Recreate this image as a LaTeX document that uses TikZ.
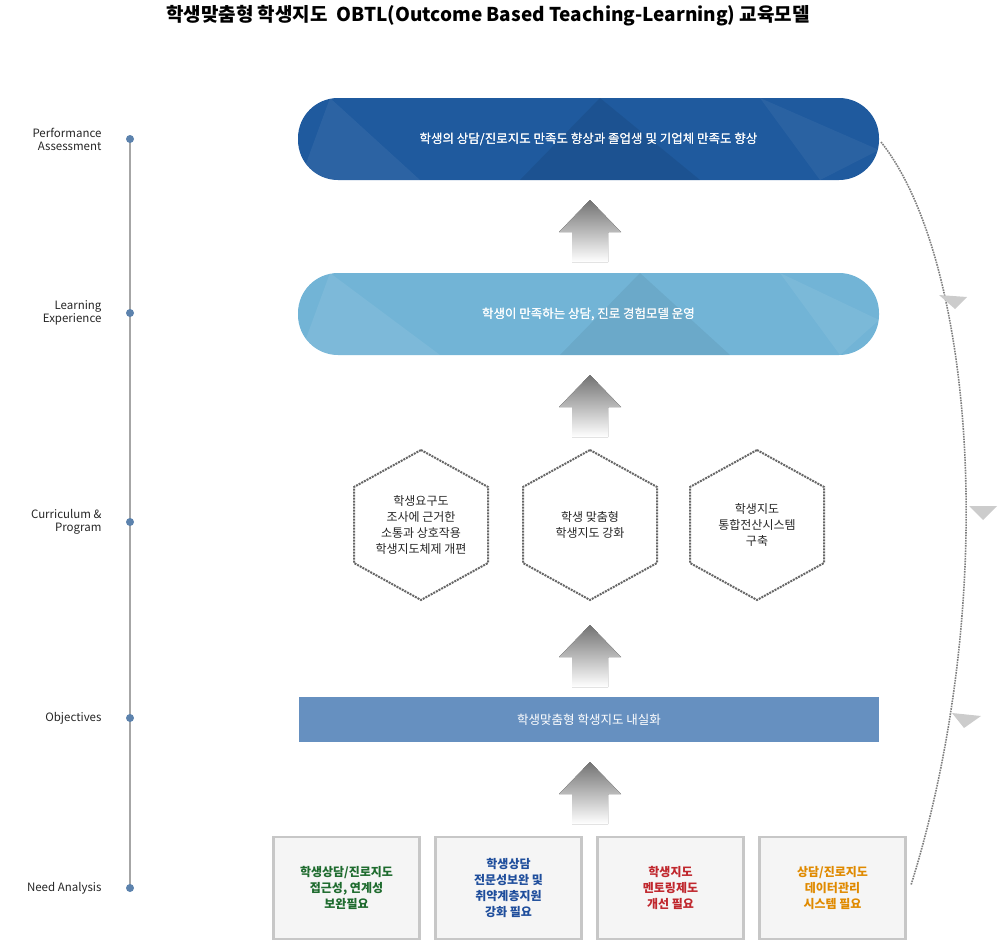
\documentclass[tikz,border=0pt]{standalone}
\usepackage{fontspec}
\setmainfont{Noto Sans CJK KR}
\usetikzlibrary{decorations.markings}
\definecolor{dblue}{HTML}{1F5A9E}
\definecolor{lblue}{HTML}{72B4D6}
\definecolor{oblue}{HTML}{6690C0}
\definecolor{tgreen}{HTML}{1E6B2E}
\definecolor{tblue}{HTML}{1F4E9C}
\definecolor{tred}{HTML}{C0272D}
\definecolor{torange}{HTML}{E08A00}
\tikzset{
 lab/.style={anchor=east,align=right,font=\fontsize{11.5}{13}\selectfont,text=black!85},
 dot/.style={circle,fill=oblue!90!black,inner sep=0pt,minimum size=8pt},
 pill/.style={rounded corners=40pt,minimum width=581pt,minimum height=82pt,text=white,font=\fontsize{12.5}{15}\selectfont},
 need/.style={draw=black!22,line width=2.5pt,fill=black!4,minimum width=146pt,minimum height=102pt,align=center,font=\bfseries\fontsize{12}{16}\selectfont},
 hex/.style={draw=black!60,densely dotted,line width=2pt},
 hext/.style={align=center,font=\fontsize{12}{16}\selectfont,text=black!85},
 uparrow/.style={top color=black!55,bottom color=white,draw=none},
 arr/.style={fill=black!20,draw=none}
}
\begin{document}
\begin{tikzpicture}[x=1pt,y=-1pt]
\useasboundingbox (0,0) rectangle (998,942);
\node[font=\bfseries\fontsize{19}{22}\selectfont] (title) at (488,16) {학생맞춤형 학생지도\ \ OBTL(Outcome Based Teaching-Learning) 교육모델};
% left scale
\draw[black!35,line width=1.5pt] (130,139) -- (130,888);
\foreach \y/\t/\n in {139/Performance\\Assessment/l1,313/Learning\\Experience/l2,522/Curriculum \&\\Program/l3,718/Objectives/l4,888/Need Analysis/l5}{
 \node[dot] (\n d) at (130,\y) {};
 \node[lab] (\n) at (105,\y) {\t};
}
% pills
\node[pill,fill=dblue] (p1) at (588.5,139) {학생의 상담/진로지도 만족도 향상과 졸업생 및 기업체 만족도 향상};
\begin{scope}
\clip[rounded corners=40pt] (298,98) rectangle (879,180);
\fill[white,opacity=0.06] (330,98) -- (420,180) -- (300,180) -- cycle;
\fill[black,opacity=0.08] (600,98) -- (700,180) -- (520,180) -- cycle;
\fill[white,opacity=0.05] (760,98) -- (879,150) -- (820,180) -- cycle;
\end{scope}
\node[text=white,font=\fontsize{12.5}{15}\selectfont] at (p1) {학생의 상담/진로지도 만족도 향상과 졸업생 및 기업체 만족도 향상};
\node[pill,fill=lblue] (p2) at (588.5,314) {학생이 만족하는 상담, 진로 경험모델 운영};
\begin{scope}
\clip[rounded corners=40pt] (298,273) rectangle (879,355);
\fill[white,opacity=0.08] (330,273) -- (440,355) -- (300,355) -- cycle;
\fill[black,opacity=0.06] (640,273) -- (730,355) -- (560,355) -- cycle;
\fill[white,opacity=0.07] (780,273) -- (879,320) -- (840,355) -- cycle;
\end{scope}
\node[text=white,font=\fontsize{12.5}{15}\selectfont] at (p2) {학생이 만족하는 상담, 진로 경험모델 운영};
% up arrows
\foreach \t in {200,375,625,762}{
 \fill[uparrow] (590,\t) -- (621,\t+32) -- (608,\t+32) -- (608,\t+62) -- (572,\t+62) -- (572,\t+32) -- (559,\t+32) -- cycle;
}
% hexagons
\foreach \cx/\n in {421/h1,590/h2,757/h3}{
 \draw[hex] (\cx,450) -- (\cx+67,487) -- (\cx+67,563) -- (\cx,600) -- (\cx-67,563) -- (\cx-67,487) -- cycle;
}
\node[hext] (h1) at (421,525) {학생요구도\\조사에 근거한\\소통과 상호작용\\학생지도체제 개편};
\node[hext] (h2) at (590,525) {학생 맞춤형\\학생지도 강화};
\node[hext] (h3) at (757,525) {학생지도\\통합전산시스템\\구축};
% objectives
\node[fill=oblue,minimum width=580pt,minimum height=45pt,text=white,font=\fontsize{12.5}{15}\selectfont] (obj) at (589,719.5) {학생맞춤형 학생지도 내실화};
% need boxes
\node[need,text=tgreen] (n1) at (346.5,888) {학생상담/진로지도\\접근성, 연계성\\보완필요};
\node[need,text=tblue] (n2) at (508.5,888) {학생상담\\전문성보완 및\\취약계층지원\\강화 필요};
\node[need,text=tred] (n3) at (670.5,888) {학생지도\\멘토링제도\\개선 필요};
\node[need,text=torange] (n4) at (832.5,888) {상담/진로지도\\데이터관리\\시스템 필요};
% right curve
\coordinate (c0) at (881,142);
\coordinate (c1) at (911,885);
\draw[black!50,densely dotted,line width=1.6pt] (c0) .. controls (975,260) and (1000,600) .. (c1);
\fill[arr] (939,295) -- (967,297) -- (955,309) -- cycle;
\fill[arr] (969,506) -- (997,506) -- (983,520) -- cycle;
\fill[arr] (952,713) -- (981,716) -- (964,728) -- cycle;
\end{tikzpicture}
\end{document}
